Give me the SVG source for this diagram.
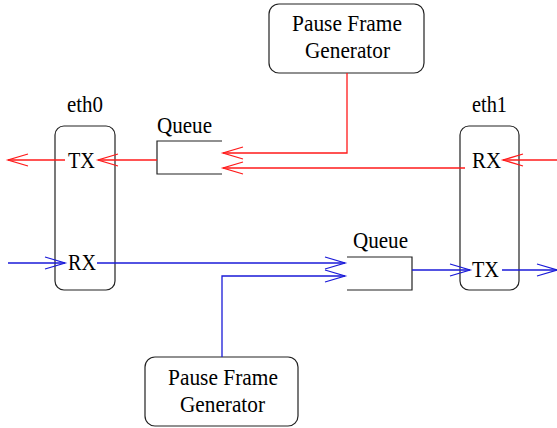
<svg xmlns="http://www.w3.org/2000/svg" width="557" height="428" viewBox="0 0 557 428">
  <style>
    .box { fill: #fff; stroke: #222; stroke-width: 1.2; }
    .queue { fill: none; stroke: #222; stroke-width: 1.2; }
    .lbl { font-family: "Liberation Serif", "Times New Roman", serif; font-size: 23px; fill: #000; }
    .mid { text-anchor: middle; }
    .red { fill: none; stroke: #ff1a1a; stroke-width: 1.3; }
    .blue { fill: none; stroke: #1a1ad8; stroke-width: 1.3; }
  </style>
  <defs>
    <marker id="ahRed" markerUnits="userSpaceOnUse" markerWidth="24" markerHeight="16" refX="21" refY="7" orient="auto" overflow="visible">
      <path d="M1,1 L21,7 L1,13" fill="none" stroke="#ff1a1a" stroke-width="1.3"/>
    </marker>
    <marker id="ahBlue" markerUnits="userSpaceOnUse" markerWidth="24" markerHeight="16" refX="21" refY="7" orient="auto" overflow="visible">
      <path d="M1,1 L21,7 L1,13" fill="none" stroke="#1a1ad8" stroke-width="1.3"/>
    </marker>
  </defs>

  <!-- interfaces -->
  <g id="eth0">
    <rect class="box" x="55" y="126" width="60" height="164" rx="9"/>
    <text class="lbl" x="67" y="112" textLength="36" lengthAdjust="spacingAndGlyphs">eth0</text>
    <text class="lbl" x="68" y="168" textLength="27" lengthAdjust="spacingAndGlyphs">TX</text>
    <text class="lbl" x="68" y="270" textLength="28" lengthAdjust="spacingAndGlyphs">RX</text>
  </g>
  <g id="eth1">
    <rect class="box" x="460" y="126" width="59" height="164" rx="9"/>
    <text class="lbl" x="472" y="112" textLength="35" lengthAdjust="spacingAndGlyphs">eth1</text>
    <text class="lbl" x="472" y="168" textLength="29" lengthAdjust="spacingAndGlyphs">RX</text>
    <text class="lbl" x="472" y="277" textLength="27" lengthAdjust="spacingAndGlyphs">TX</text>
  </g>

  <!-- queues, open on their input side -->
  <g id="queue1">
    <path class="queue" d="M222,141 H157 V174 H222"/>
    <text class="lbl" x="157" y="133" textLength="55" lengthAdjust="spacingAndGlyphs">Queue</text>
  </g>
  <g id="queue2">
    <path class="queue" d="M347,257 H412 V290 H347"/>
    <text class="lbl" x="353" y="248" textLength="55" lengthAdjust="spacingAndGlyphs">Queue</text>
  </g>

  <!-- pause frame generators -->
  <g id="pauseGenTop">
    <rect class="box" x="269" y="4" width="155" height="69" rx="10"/>
    <text class="lbl" x="292" y="31" textLength="110" lengthAdjust="spacingAndGlyphs">Pause Frame</text>
    <text class="lbl" x="305" y="58" textLength="85" lengthAdjust="spacingAndGlyphs">Generator</text>
  </g>
  <g id="pauseGenBottom">
    <rect class="box" x="145" y="357" width="153" height="69" rx="10"/>
    <text class="lbl" x="168" y="385" textLength="110" lengthAdjust="spacingAndGlyphs">Pause Frame</text>
    <text class="lbl" x="180" y="412" textLength="85" lengthAdjust="spacingAndGlyphs">Generator</text>
  </g>

  <!-- connectors -->
  <g id="connectors">
    <!-- red path: eth1 RX -> queue -> eth0 TX -->
    <line class="red" x1="557" y1="160" x2="503" y2="160" marker-end="url(#ahRed)"/>
    <line class="red" x1="465" y1="168" x2="223" y2="168" marker-end="url(#ahRed)"/>
    <polyline class="red" points="347,73 347,153 223,153" marker-end="url(#ahRed)"/>
    <line class="red" x1="157" y1="160" x2="98" y2="160" marker-end="url(#ahRed)"/>
    <line class="red" x1="65" y1="160" x2="8" y2="160" marker-end="url(#ahRed)"/>
    <!-- blue path: eth0 RX -> queue -> eth1 TX -->
    <line class="blue" x1="8" y1="263" x2="65" y2="263" marker-end="url(#ahBlue)"/>
    <line class="blue" x1="97" y1="263" x2="345" y2="263" marker-end="url(#ahBlue)"/>
    <polyline class="blue" points="222,357 222,276 345,276" marker-end="url(#ahBlue)"/>
    <line class="blue" x1="412" y1="270" x2="470" y2="270" marker-end="url(#ahBlue)"/>
    <line class="blue" x1="502" y1="270" x2="557" y2="270" marker-end="url(#ahBlue)"/>
  </g>
</svg>
